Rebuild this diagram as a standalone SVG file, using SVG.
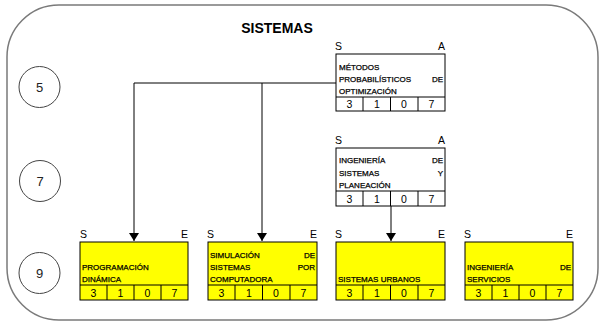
<svg xmlns="http://www.w3.org/2000/svg" width="602" height="326" viewBox="0 0 602 326">
<defs>
<style>
.frame{fill:#fff;stroke:#7a7a7a;stroke-width:1.5}
.circ{fill:#fff;stroke:#444;stroke-width:1}
.cnum{font-family:"Liberation Sans",Arial,sans-serif;font-size:13px;fill:#222;text-anchor:middle}
.title{font-family:"Liberation Sans",Arial,sans-serif;font-size:14px;font-weight:bold;fill:#000;text-anchor:middle}
.lbl{font-family:"Liberation Sans",Arial,sans-serif;font-size:10.5px;fill:#000}
.txt{font-family:"Liberation Sans",Arial,sans-serif;font-size:8px;fill:#000;stroke:#000;stroke-width:0.25}
.end{text-anchor:end}
.num{font-family:"Liberation Sans",Arial,sans-serif;font-size:10.5px;fill:#000;text-anchor:middle}
.boxw{fill:#fff;stroke:#000;stroke-width:1}
.boxy{fill:#ffff00;stroke:#000;stroke-width:1}
.ln{stroke:#000;stroke-width:1;fill:none}
.conn{stroke:#000;stroke-width:1;fill:none}
</style>
<marker id="arr" viewBox="0 0 8 10" refX="8" refY="5" markerWidth="8" markerHeight="10" markerUnits="userSpaceOnUse" orient="auto">
<path d="M0,0 L8,5 L0,10 z" fill="#000"/>
</marker>
</defs>
<rect class="frame" x="7" y="5" width="591" height="315" rx="52" ry="52"/>
<text class="title" x="277" y="33">SISTEMAS</text>

<g id="sem5"><circle class="circ" cx="39.5" cy="87" r="20.5"/><text class="cnum" x="39.5" y="92">5</text></g>
<g id="sem7"><circle class="circ" cx="40" cy="181" r="20.5"/><text class="cnum" x="40" y="186">7</text></g>
<g id="sem9"><circle class="circ" cx="39.5" cy="273" r="20.5"/><text class="cnum" x="39.5" y="278">9</text></g>

<g id="connectors">
<path class="conn" d="M336,83 H134 V241" marker-end="url(#arr)"/>
<path class="conn" d="M262,83 V241" marker-end="url(#arr)"/>
<path class="conn" d="M391,206 V241" marker-end="url(#arr)"/>
</g>

<g id="metodos">
<text class="lbl" x="335" y="50">S</text><text class="lbl end" x="445" y="50">A</text>
<rect class="boxw" x="336" y="54" width="109" height="57"/>
<line class="ln" x1="336" y1="97" x2="445" y2="97"/>
<line class="ln" x1="363" y1="97" x2="363" y2="111"/><line class="ln" x1="390.5" y1="97" x2="390.5" y2="111"/><line class="ln" x1="418" y1="97" x2="418" y2="111"/>
<text class="txt" x="339" y="69.5">MÉTODOS</text>
<text class="txt" x="339" y="82">PROBABILÍSTICOS</text><text class="txt end" x="443" y="82">DE</text>
<text class="txt" x="339" y="94">OPTIMIZACIÓN</text>
<text class="num" x="349.5" y="108">3</text><text class="num" x="377" y="108">1</text><text class="num" x="404" y="108">0</text><text class="num" x="431.5" y="108">7</text>
</g>

<g id="ingsis">
<text class="lbl" x="335" y="144">S</text><text class="lbl end" x="445" y="144">A</text>
<rect class="boxw" x="336" y="148" width="109" height="58"/>
<line class="ln" x1="336" y1="191" x2="445" y2="191"/>
<line class="ln" x1="363" y1="191" x2="363" y2="206"/><line class="ln" x1="390.5" y1="191" x2="390.5" y2="206"/><line class="ln" x1="418" y1="191" x2="418" y2="206"/>
<text class="txt" x="339" y="163">INGENIERÍA</text><text class="txt end" x="443" y="163">DE</text>
<text class="txt" x="339" y="175.5">SISTEMAS</text><text class="txt end" x="443" y="175.5">Y</text>
<text class="txt" x="339" y="188">PLANEACIÓN</text>
<text class="num" x="349.5" y="202.5">3</text><text class="num" x="377" y="202.5">1</text><text class="num" x="404" y="202.5">0</text><text class="num" x="431.5" y="202.5">7</text>
</g>

<g id="progdin">
<text class="lbl" x="80" y="238">S</text><text class="lbl end" x="188" y="238">E</text>
<rect class="boxy" x="80" y="242" width="108" height="58"/>
<line class="ln" x1="80" y1="285" x2="188" y2="285"/>
<line class="ln" x1="107" y1="285" x2="107" y2="300"/><line class="ln" x1="134" y1="285" x2="134" y2="300"/><line class="ln" x1="161" y1="285" x2="161" y2="300"/>
<text class="txt" x="82" y="270">PROGRAMACIÓN</text>
<text class="txt" x="82" y="282">DINÁMICA</text>
<text class="num" x="93.5" y="296.5">3</text><text class="num" x="120.5" y="296.5">1</text><text class="num" x="147.5" y="296.5">0</text><text class="num" x="174.5" y="296.5">7</text>
</g>

<g id="simul">
<text class="lbl" x="207" y="238">S</text><text class="lbl end" x="317" y="238">E</text>
<rect class="boxy" x="208" y="242" width="109" height="58"/>
<line class="ln" x1="208" y1="285" x2="317" y2="285"/>
<line class="ln" x1="235" y1="285" x2="235" y2="300"/><line class="ln" x1="262.5" y1="285" x2="262.5" y2="300"/><line class="ln" x1="290" y1="285" x2="290" y2="300"/>
<text class="txt" x="210" y="257.5">SIMULACIÓN</text><text class="txt end" x="315" y="257.5">DE</text>
<text class="txt" x="210" y="270">SISTEMAS</text><text class="txt end" x="315" y="270">POR</text>
<text class="txt" x="210" y="282">COMPUTADORA</text>
<text class="num" x="221.5" y="296.5">3</text><text class="num" x="249" y="296.5">1</text><text class="num" x="276" y="296.5">0</text><text class="num" x="303.5" y="296.5">7</text>
</g>

<g id="urbanos">
<text class="lbl" x="335" y="238">S</text><text class="lbl end" x="445" y="238">E</text>
<rect class="boxy" x="336" y="242" width="109" height="58"/>
<line class="ln" x1="336" y1="285" x2="445" y2="285"/>
<line class="ln" x1="363" y1="285" x2="363" y2="300"/><line class="ln" x1="390.5" y1="285" x2="390.5" y2="300"/><line class="ln" x1="418" y1="285" x2="418" y2="300"/>
<text class="txt" x="338" y="282">SISTEMAS URBANOS</text>
<text class="num" x="349.5" y="296.5">3</text><text class="num" x="377" y="296.5">1</text><text class="num" x="404" y="296.5">0</text><text class="num" x="431.5" y="296.5">7</text>
</g>

<g id="servicios">
<text class="lbl" x="464" y="238">S</text><text class="lbl end" x="573" y="238">E</text>
<rect class="boxy" x="465" y="242" width="108" height="58"/>
<line class="ln" x1="465" y1="285" x2="573" y2="285"/>
<line class="ln" x1="492" y1="285" x2="492" y2="300"/><line class="ln" x1="519" y1="285" x2="519" y2="300"/><line class="ln" x1="546" y1="285" x2="546" y2="300"/>
<text class="txt" x="467" y="270">INGENIERÍA</text><text class="txt end" x="571" y="270">DE</text>
<text class="txt" x="467" y="282">SERVICIOS</text>
<text class="num" x="478.5" y="296.5">3</text><text class="num" x="505.5" y="296.5">1</text><text class="num" x="532.5" y="296.5">0</text><text class="num" x="559.5" y="296.5">7</text>
</g>
</svg>
